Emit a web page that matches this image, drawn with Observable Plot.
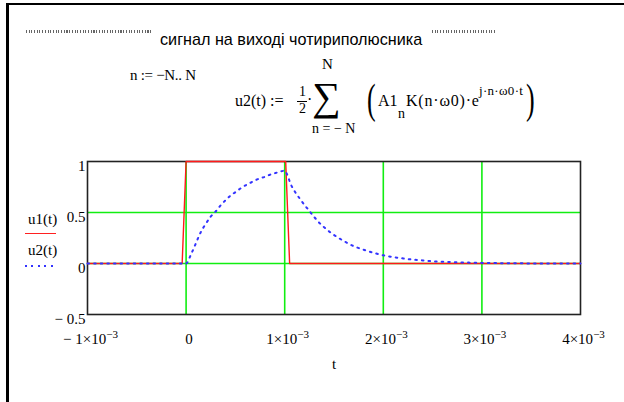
<!DOCTYPE html>
<html>
<head>
<meta charset="utf-8">
<script src="https://cdn.jsdelivr.net/npm/d3@7"></script>
<script src="https://cdn.jsdelivr.net/npm/@observablehq/plot@0.6"></script>
<style>
  body { margin: 0; background: #fff; }
  #page { position: relative; width: 624px; height: 402px; overflow: hidden; background: #fff; color: #000; }
  .t { position: absolute; white-space: nowrap; line-height: 1; }
  .rule { position: absolute; height: 3px;
          background: repeating-linear-gradient(90deg, #666 0 1px, #fff 1px 2.7px); }
  #chart { position: absolute; left: 0; top: 140px; }
</style>
</head>
<body>
<div id="page">
  <div style="position:absolute;left:6px;top:3px;width:618px;height:2px;background:#000"></div>
  <div style="position:absolute;left:6px;top:3px;width:3px;height:399px;background:#000"></div>
  <div class="rule" style="left:26px;top:30px;width:126px"></div>
  <div class="rule" style="left:432px;top:30px;width:65px"></div>
  <div id="chart"></div>
</div>
<script>
// Time axis in milliseconds (converted to seconds for the x scale)
const u1TimeMs = [-1, -0.04, 0, 1.01, 1.05, 4];
const u1Values = [0, 0, 1, 1, 0, 0];

const u2TimeMs = [-1, -0.5, 0, 0.05, 0.1, 0.15, 0.2, 0.25, 0.3, 0.35, 0.4, 0.45, 0.5,
  0.55, 0.6, 0.65, 0.7, 0.75, 0.8, 0.85, 0.9, 0.95, 1.0, 1.03, 1.06, 1.1, 1.15, 1.2,
  1.25, 1.3, 1.35, 1.4, 1.45, 1.5, 1.6, 1.7, 1.8, 1.9, 2.0, 2.1, 2.2, 2.3, 2.4, 2.5,
  2.6, 2.7, 2.8, 2.9, 3.0, 3.5, 4.0];
const u2Values = [0, 0, 0, 0.09, 0.2, 0.31, 0.39, 0.46, 0.51, 0.57, 0.62, 0.665, 0.70,
  0.735, 0.765, 0.79, 0.815, 0.835, 0.85, 0.87, 0.885, 0.90, 0.91, 0.86, 0.78, 0.71, 0.64,
  0.575, 0.515, 0.455, 0.40, 0.355, 0.315, 0.28, 0.22, 0.17, 0.135, 0.105, 0.08, 0.063,
  0.05, 0.038, 0.03, 0.022, 0.017, 0.013, 0.01, 0.008, 0.006, 0.001, 0];

const xTicks = [-1e-3, 0, 1e-3, 2e-3, 3e-3, 4e-3];
const yTicks = [-0.5, 0, 0.5, 1];
const xDomain = [-1e-3, 4e-3];
const yDomain = [-0.5, 1];

const titleText = "сигнал на виході чотириполюсника";

const page = document.getElementById("page");
const SERIF = "'Liberation Serif', 'Times New Roman', serif";
const SANS = "'Liberation Sans', Arial, sans-serif";

// place text by its baseline
function put(text, x, baseline, size, opts = {}) {
  const el = document.createElement("div");
  el.className = "t";
  el.textContent = text;
  const fam = opts.family || SERIF;
  const k = fam === SANS ? 0.8465 : 0.8375;
  el.style.left = x + "px";
  el.style.top = (baseline - k * size) + "px";
  el.style.fontSize = size + "px";
  el.style.fontFamily = fam;
  if (opts.spacing) el.style.letterSpacing = opts.spacing + "px";
  if (opts.scale) {
    el.style.transform = `scale(${opts.scale[0]}, ${opts.scale[1]})`;
    el.style.transformOrigin = `0 ${k * size}px`;
  }
  page.appendChild(el);
  return el;
}

// heading
put(titleText, 160, 45, 16.2, {family: SANS});

// formulas
put("n := −N.. N", 130, 81, 15, {spacing: -0.3});
put("u2(t) :=", 235, 106, 16);
put("1", 299, 97, 14);
const bar = document.createElement("div");
Object.assign(bar.style, {position: "absolute", left: "297px", top: "101px", width: "10px", height: "1px", background: "#000"});
page.appendChild(bar);
put("2", 299, 114, 14);
put("·", 307, 105, 16);
put("∑", 312, 110, 40);
put("N", 322, 70, 15);
put("n = − N", 312, 134, 14);
put("(", 367, 114, 26, {scale: [1, 1.6]});
put("A1", 378, 106, 16);
put("n", 398, 119, 14);
put("K(n·ω0)·e", 406, 106, 16, {spacing: 0.8});
put("j·n·ω0·t", 479, 95, 13, {spacing: 0.3});
put(")", 526, 114, 26, {scale: [1, 1.6]});

// legend
put("u1(t)", 28, 225, 15);
const l1 = document.createElement("div");
Object.assign(l1.style, {position: "absolute", left: "25px", top: "232.5px", width: "31px", height: "1.5px", background: "#ff2020"});
page.appendChild(l1);
put("u2(t)", 28, 256, 15);
const l2 = document.createElement("div");
Object.assign(l2.style, {position: "absolute", left: "25px", top: "265px", width: "29px", height: "2px",
  background: "repeating-linear-gradient(90deg, #3333ff 0 2px, transparent 2px 6.5px)"});
page.appendChild(l2);

// chart
const sec = ms => ms / 1000;
const u1 = u1TimeMs.map((t, i) => ({t: sec(t), v: u1Values[i]}));
const u2 = u2TimeMs.map((t, i) => ({t: sec(t), v: u2Values[i]}));
const green = "#11ee11";

const fmtX = d => {
  if (d === 0) return "0";
  const m = Math.round(Math.abs(d) * 1000);
  return (d < 0 ? "\u2212 " : "") + m + "×10^\u22123";
};
const fmtY = d => d < 0 ? "\u2212 " + Math.abs(d) : String(d);

const svg = Plot.plot({
  width: 624,
  height: 260,
  marginLeft: 87,
  marginRight: 44,
  marginTop: 21,
  marginBottom: 86,
  style: {fontFamily: SERIF, fontSize: "15px", color: "#000", background: "transparent", overflow: "visible"},
  x: {domain: xDomain, ticks: xTicks, tickFormat: fmtX, tickSize: 0, tickPadding: 19,
      label: "t", labelAnchor: "center", labelOffset: 54, labelArrow: "none"},
  y: {domain: yDomain, ticks: yTicks, tickFormat: fmtY, tickSize: 0, tickPadding: 2, label: null},
  marks: [
    Plot.ruleY(yTicks.filter(v => v > yDomain[0] && v < yDomain[1]), {stroke: green, strokeWidth: 1.6}),
    Plot.ruleX(xTicks.filter(v => v > xDomain[0] && v < xDomain[1]), {stroke: green, strokeWidth: 1.6}),
    Plot.frame({stroke: "#222", strokeWidth: 1.6}),
    Plot.line(u1, {x: "t", y: "v", stroke: "#ff1a1a", strokeWidth: 1.4}),
    Plot.line(u2, {x: "t", y: "v", stroke: "#3333ff", strokeWidth: 2,
      strokeDasharray: "1.6,5", curve: "monotone-x"})
  ]
});

// exponent formatting for the x tick labels
const NS = "http://www.w3.org/2000/svg";
svg.querySelectorAll('g[aria-label="x-axis tick label"] text').forEach(el => {
  el.setAttribute("dx", "3");
  const s = el.textContent;
  if (s.includes("^")) {
    const [base, exp] = s.split("^");
    el.textContent = base;
    const ts = document.createElementNS(NS, "tspan");
    ts.setAttribute("font-size", "11");
    ts.setAttribute("dy", "-6");
    ts.textContent = exp;
    el.appendChild(ts);
  }
});
svg.querySelectorAll('g[aria-label="y-axis tick label"] text').forEach(el => el.setAttribute("dy", "0.32em"));

document.getElementById("chart").appendChild(svg);
</script>
</body>
</html>
